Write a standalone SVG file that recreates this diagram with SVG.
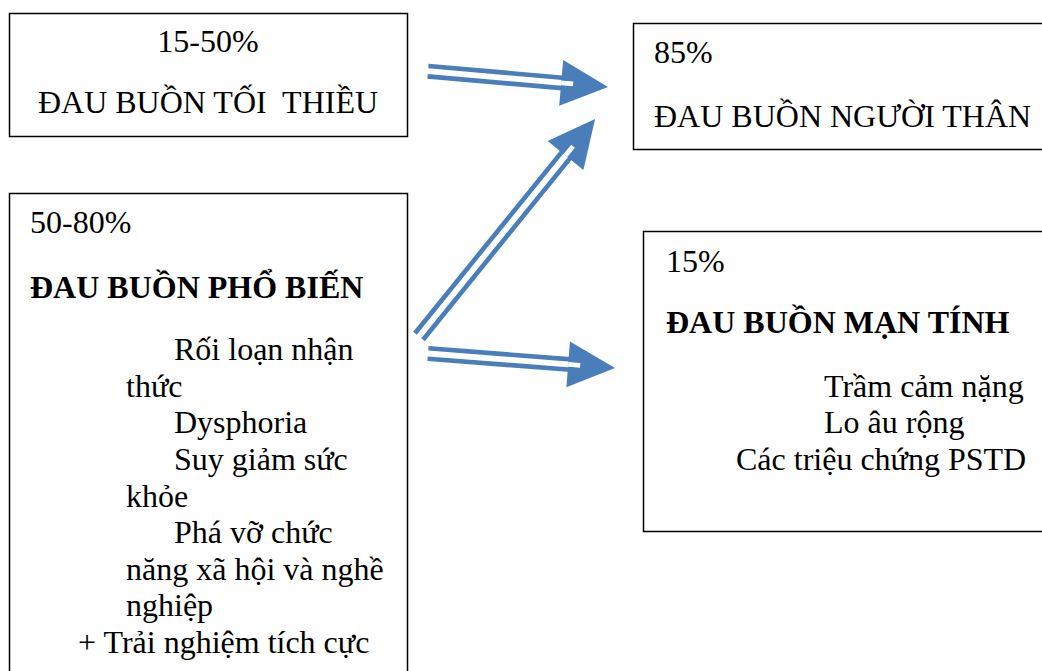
<svg xmlns="http://www.w3.org/2000/svg" width="1042" height="671" viewBox="0 0 1042 671">
<style>
.box{fill:#fff;stroke:#000;stroke-width:1.5}
.t{font-family:"Liberation Serif","Times New Roman",serif;font-size:32px;fill:#000}
.b{font-weight:bold}
.ln{stroke:#4A7EBB;stroke-width:4.6;fill:none}
.hd{fill:#4A7EBB}
.notch{fill:#fff}
</style>
<rect width="1042" height="671" fill="#fff"/>
<g id="n-toithieu">
<rect class="box" x="9.5" y="13.5" width="398" height="123"/>
<text class="t" x="208" y="52" text-anchor="middle">15-50%</text>
<text class="t" x="208" y="113" text-anchor="middle" xml:space="preserve">ĐAU BUỒN TỐI  THIỀU</text>
</g>
<g id="n-nguoithan">
<rect class="box" x="633.5" y="23.5" width="420" height="126"/>
<text class="t" x="654" y="63">85%</text>
<text class="t" x="654" y="127">ĐAU BUỒN NGƯỜI THÂN</text>
</g>
<g id="n-phobien">
<rect class="box" x="9.5" y="193.5" width="398" height="500"/>
<text class="t" x="30" y="233">50-80%</text>
<text class="t b" x="30" y="298">ĐAU BUỒN PHỔ BIẾN</text>
<text class="t" x="174" y="360">Rối loạn nhận</text>
<text class="t" x="126" y="397">thức</text>
<text class="t" x="174" y="433">Dysphoria</text>
<text class="t" x="174" y="470">Suy giảm sức</text>
<text class="t" x="126" y="507">khỏe</text>
<text class="t" x="174" y="543">Phá vỡ chức</text>
<text class="t" x="126" y="580">năng xã hội và nghề</text>
<text class="t" x="126" y="616">nghiệp</text>
<text class="t" x="78" y="653">+ Trải nghiệm tích cực</text>
</g>
<g id="n-mantinh">
<rect class="box" x="643.5" y="231.5" width="420" height="300"/>
<text class="t" x="666" y="272">15%</text>
<text class="t b" x="666" y="333">ĐAU BUỒN MẠN TÍNH</text>
<text class="t" x="824" y="397">Trầm cảm nặng</text>
<text class="t" x="824" y="433">Lo âu rộng</text>
<text class="t" x="736" y="470">Các triệu chứng PSTD</text>
</g>
<g id="connectors">
<g transform="translate(428,71.2) rotate(5.0)">
<polygon class="hd" points="133.7,-23 180.7,0 133.7,23"/>
<rect class="notch" x="133.7" y="-2.4" width="12" height="4.8"/>
<line class="ln" x1="0" y1="-5.2" x2="146" y2="-5.2"/>
<line class="ln" x1="0" y1="5.2" x2="146" y2="5.2"/>
</g>
<g transform="translate(419,336.5) rotate(-51.0)">
<polygon class="hd" points="232.8,-23 279.8,0 232.8,23"/>
<rect class="notch" x="232.8" y="-2.4" width="12" height="4.8"/>
<line class="ln" x1="0" y1="-5.2" x2="245" y2="-5.2"/>
<line class="ln" x1="0" y1="5.2" x2="245" y2="5.2"/>
</g>
<g transform="translate(428,353.5) rotate(4.43)">
<polygon class="hd" points="140.6,-23 187.6,0 140.6,23"/>
<rect class="notch" x="140.6" y="-2.4" width="12" height="4.8"/>
<line class="ln" x1="0" y1="-5.2" x2="153" y2="-5.2"/>
<line class="ln" x1="0" y1="5.2" x2="153" y2="5.2"/>
</g>
</g>
</svg>
